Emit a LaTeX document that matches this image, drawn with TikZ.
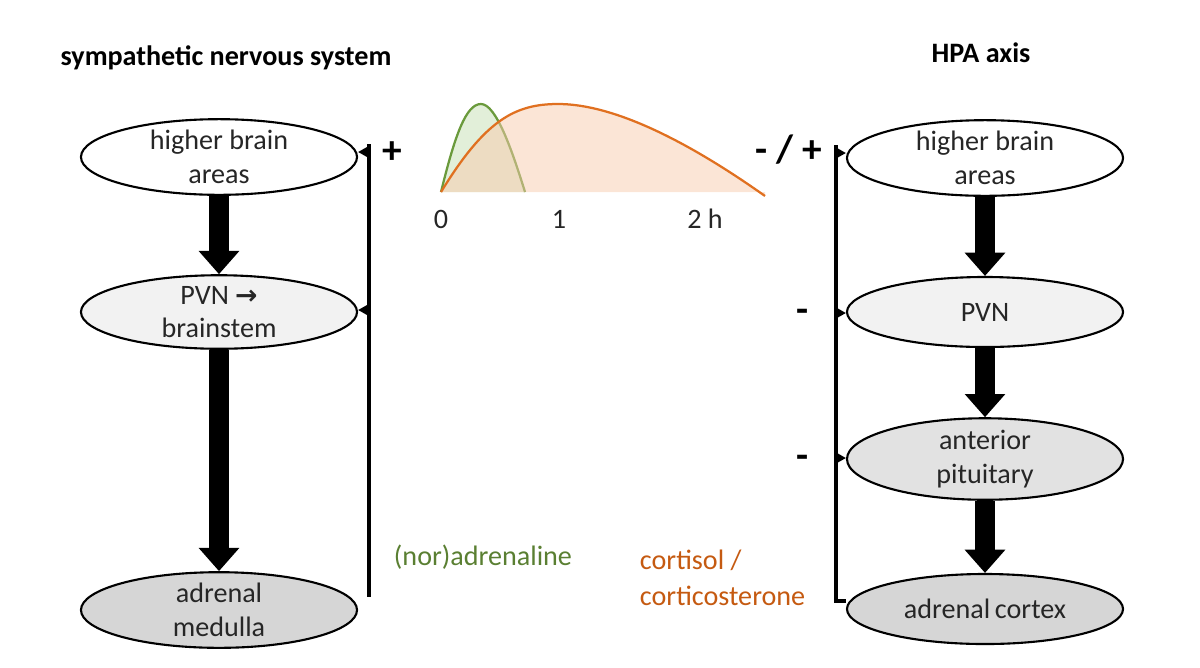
\documentclass[tikz,border=0pt]{standalone}
\usepackage{fontspec}
\setmainfont{Carlito}
\newfontfamily\symfont{DejaVu Sans}
\usetikzlibrary{shapes.geometric,arrows.meta}
\definecolor{grnline}{HTML}{6A9A3C}
\definecolor{grnfill}{HTML}{E2EFD9}
\definecolor{orgline}{HTML}{E07020}
\definecolor{orgfill}{HTML}{F8CBAD}
\definecolor{grntext}{HTML}{5A7F32}
\definecolor{orgtext}{HTML}{C55A11}
\definecolor{fillA}{HTML}{F2F2F2}
\definecolor{fillB}{HTML}{E2E2E2}
\definecolor{fillC}{HTML}{D6D6D6}
\tikzset{
  organ/.style={ellipse, draw=black, line width=1.5pt, minimum width=6.9cm, minimum height=1.75cm,
    inner sep=0pt, align=center, font=\fontsize{20}{24}\selectfont, text=black!85},
  bigarrow/.style={line width=0.5cm, -{Triangle[width=0.98cm,length=0.58cm]}},
  feedbar/.style={line width=3pt},
  tick/.style={line width=1.5pt, -{Triangle[width=0.3cm,length=0.28cm]}},
  sign/.style={font=\bfseries\fontsize{28}{30}\selectfont},
  title/.style={font=\bfseries\fontsize{20}{24}\selectfont},
  axislabel/.style={font=\fontsize{20}{24}\selectfont, text=black!85},
  legend/.style={font=\fontsize{20}{25}\selectfont, align=left, anchor=base west}
}
\begin{document}
\begin{tikzpicture}[x=0.025cm,y=-0.025cm]
\useasboundingbox (0,0) rectangle (1200,667);
% titles
\node[title] (t1) at (226,58) {sympathetic nervous system};
\node[title] (t2) at (981,53) {HPA axis};
% left column
\node[organ, fill=white] (l1) at (219,157) {higher brain\\areas};
\node[organ, fill=fillA] (l2) at (219,312) {PVN {\symfont\bfseries\fontsize{19}{20}\selectfont →}\\brainstem};
\node[organ, fill=fillC] (l3) at (219,610) {adrenal\\medulla};
\draw[bigarrow] (l1.south) -- (l2.north);
\draw[bigarrow] (l2.south) -- (l3.north);
% left feedback bar
\coordinate (lbtop) at (369,144);
\coordinate (lbbot) at (369,597);
\draw[feedbar] (lbtop) -- (lbbot);
\draw[tick] (369,152) -- (l1.east |- 0,152);
\draw[tick] (369,310) -- (l2.east |- 0,310);
\node[sign] (p1) at (392,153) {+};
% right column
\node[organ, fill=white] (r1) at (985,158) {higher brain\\areas};
\node[organ, fill=fillA] (r2) at (985,312) {PVN};
\node[organ, fill=fillB] (r3) at (985,459) {anterior\\pituitary};
\node[organ, fill=fillC] (r4) at (985,609) {adrenal\,cortex};
\draw[bigarrow] (r1.south) -- (r2.north);
\draw[bigarrow] (r2.south) -- (r3.north);
\draw[bigarrow] (r3.south) -- (r4.north);
% right feedback bar
\coordinate (rbtop) at (836,145);
\coordinate (rbcorner) at (836,601);
\draw[feedbar] (rbtop) -- (rbcorner) -- (r4.west |- rbcorner);
\draw[tick] (836,153) -- (r1.west |- 0,153);
\draw[tick] (836,313) -- (r2.west |- 0,313);
\draw[tick] (836,458) -- (r3.west |- 0,458);
\node[sign] (m0) at (789,150) {- / +};
\node[sign] (m1) at (803,316) {-};
\node[sign] (m2) at (803,462) {-};
% time course graph
\fill[grnfill] (441,192) .. controls (455,135) and (466,104) .. (481,104)
   .. controls (496,104) and (512,150) .. (525,192) -- cycle;
\draw[grnline, line width=1.6pt, line join=round] (441,192) .. controls (455,135) and (466,104) .. (481,104)
   .. controls (496,104) and (512,150) .. (525,192);
\fill[orgfill, opacity=0.5] (441,192) .. controls (485,120) and (515,104) .. (558,104)
   .. controls (620,104) and (700,150) .. (765,196) -- (765,192) -- cycle;
\draw[orgline, line width=1.6pt] (441,192) .. controls (485,120) and (515,104) .. (558,104)
   .. controls (620,104) and (700,150) .. (765,196);
\node[axislabel] (x0) at (441,219) {0};
\node[axislabel] (x1) at (559,219) {1};
\node[axislabel] (x2) at (705,219) {2 h};
% hormone labels
\node[legend, text=grntext] (na) at (389,565) {(nor)adrenaline};
\node[legend, text=orgtext] (co) at (635,605) {cortisol /\\corticosterone};
\end{tikzpicture}
\end{document}
